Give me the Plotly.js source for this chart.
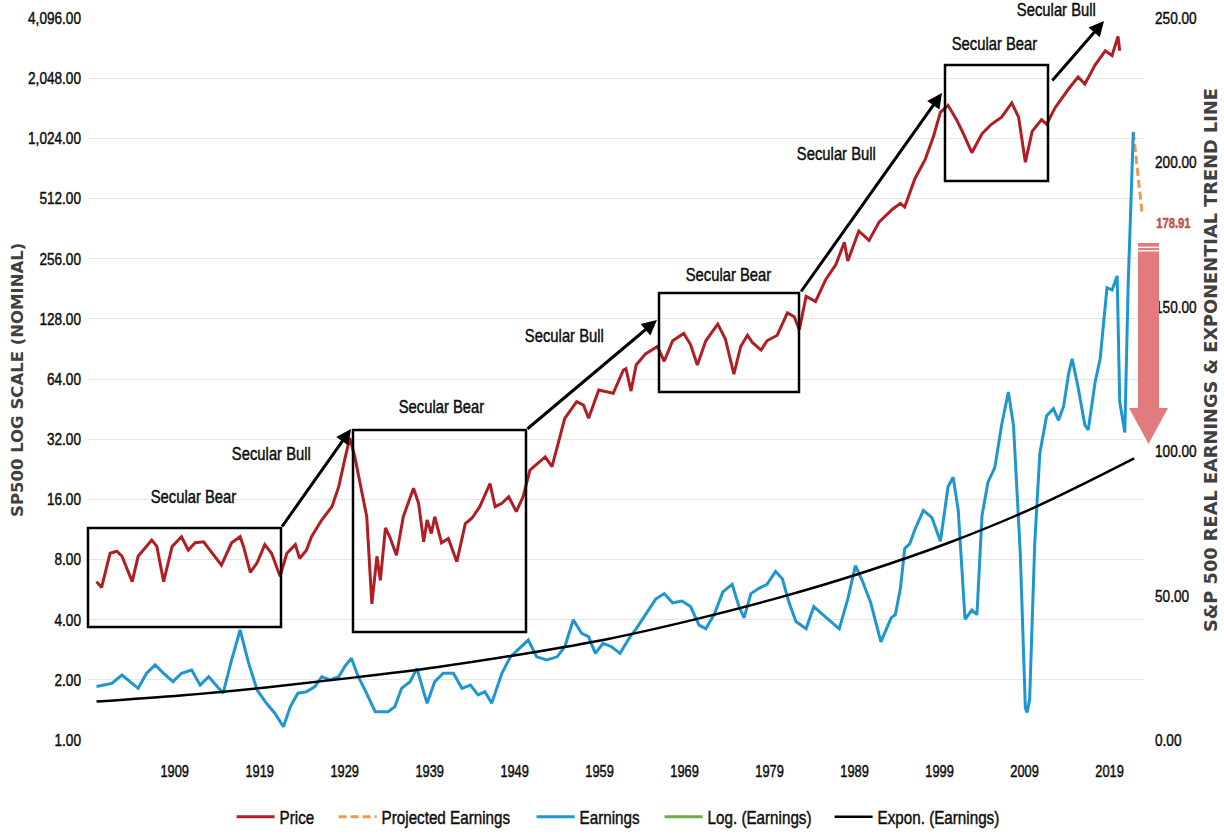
<!DOCTYPE html>
<html><head><meta charset="utf-8">
<script src="https://cdn.plot.ly/plotly-3.0.1.min.js"></script>
<style>
html,body{margin:0;padding:0;background:#fff;}
#chart{width:1224px;height:837px;}
</style>
</head><body><div id="chart"></div>
<script>
// ---------- data ----------
const tickYears = [1909,1919,1929,1939,1949,1959,1969,1979,1989,1999,2009,2019];
const leftTicks = [1,2,4,8,16,32,64,128,256,512,1024,2048,4096];
const leftTickText = ["1.00","2.00","4.00","8.00","16.00","32.00","64.00","128.00","256.00","512.00","1,024.00","2,048.00","4,096.00"];
const rightTicks = [0,50,100,150,200,250];
const rightTickText = ["0.00","50.00","100.00","150.00","200.00","250.00"];

const priceYears = [1899.8,1900.4,1901.4,1902.2,1902.8,1904.0,1904.7,1906.3,1906.9,1907.7,
1908.7,1909.8,1910.6,1911.4,1912.4,1913.4,1914.5,1915.7,1916.7,1917.1,
1917.9,1918.7,1919.6,1920.4,1921.4,1922.2,1923.2,1923.7,1924.5,1925.1,
1926.3,1927.5,1928.3,1929.0,1929.6,1930.2,1931.0,1931.6,1932.2,1932.8,
1933.2,1933.8,1934.3,1935.1,1935.9,1937.1,1937.7,1938.3,1938.7,1939.2,
1939.6,1940.4,1941.2,1942.2,1943.2,1944.0,1944.9,1946.1,1946.7,1947.5,
1948.3,1949.2,1950.0,1950.8,1952.6,1953.4,1954.9,1956.3,1957.1,1957.7,
1958.9,1960.6,1961.8,1962.1,1962.7,1963.3,1964.4,1965.8,1966.6,1967.6,
1968.9,1969.7,1970.5,1971.5,1972.9,1973.8,1974.8,1975.6,1976.4,1977.0,
1978.0,1978.7,1979.9,1981.1,1981.9,1982.5,1983.3,1984.4,1985.6,1986.8,
1987.8,1988.2,1989.5,1990.7,1991.9,1993.5,1994.4,1994.9,1996.1,1997.3,
1998.3,1999.1,2000.0,2001.0,2001.8,2002.8,2004.0,2005.1,2006.3,2007.5,
2008.3,2009.1,2009.9,2011.0,2011.6,2012.6,2014.2,2015.3,2016.1,2017.3,
2018.5,2019.3,2020.0,2020.2];
const priceValues = [6.2,5.8,8.6,8.8,8.3,6.2,8.3,10.0,9.3,6.2,
9.3,10.4,8.9,9.7,9.8,8.6,7.5,9.7,10.4,9.3,
6.9,7.7,9.5,8.6,6.6,8.6,9.5,8.1,8.9,10.4,
12.6,14.7,18.5,25.2,32.4,26.1,17.8,13.1,4.8,8.3,
6.3,11.5,10.4,8.4,13.1,18.2,15.3,9.8,12.6,10.8,
13.1,9.7,10.2,7.8,12.1,12.9,14.7,19.2,14.7,15.3,
16.5,13.9,16.5,22.4,26.1,23.3,40.7,49.3,47.4,40.7,
56.4,54.3,71.0,72.1,55.7,75.2,85.5,93.1,78.5,99.4,
108.2,95.2,75.2,99.4,120.4,101.5,67.6,93.1,106,97.2,
89.3,99.4,106,137,131,113,166,156,201,239,
309,249,352,316,391,454,484,464,643,800,
1052,1381,1499,1270,1080,868,1080,1204,1307,1539,
1307,778,1110,1270,1204,1458,1813,2077,1916,2382,
2807,2658,3308,2807];

const earnYears = [1899.8,1900.8,1901.6,1902.8,1903.5,1904.7,1905.7,1906.7,1907.7,1908.8,
1909.8,1911.0,1912.0,1913.0,1913.7,1914.7,1915.7,1916.7,1917.7,1918.7,
1919.8,1920.8,1921.8,1922.6,1923.5,1924.5,1925.5,1926.3,1927.3,1928.3,
1929.0,1929.8,1930.6,1931.4,1932.6,1934.1,1934.9,1935.7,1936.7,1937.5,
1938.7,1939.6,1940.6,1941.8,1942.8,1943.8,1944.7,1945.5,1946.3,1947.5,
1948.5,1949.4,1950.6,1951.6,1952.8,1954.0,1954.9,1955.9,1956.9,1957.7,
1958.5,1959.4,1960.4,1961.4,1962.6,1963.3,1964.4,1965.6,1966.6,1967.6,
1968.7,1969.7,1970.7,1971.5,1972.5,1973.5,1974.6,1975.4,1976.0,1976.8,
1977.8,1978.7,1979.7,1980.5,1981.3,1982.1,1983.3,1984.2,1985.2,1986.2,
1987.2,1988.2,1989.1,1989.9,1990.9,1992.1,1993.3,1993.8,1994.4,1994.9,
1995.5,1996.1,1997.1,1998.1,1999.1,2000.0,2000.6,2001.2,2002.0,2002.8,
2003.4,2004.0,2004.7,2005.5,2006.3,2007.1,2007.7,2008.5,2009.1,2009.3,
2009.6,2010.2,2010.8,2011.6,2012.4,2013.0,2013.6,2014.2,2014.6,2015.3,
2016.1,2016.5,2017.3,2017.9,2018.7,2019.3,2019.9,2020.2,2020.8,2021.2,
2021.8];
const earnValues = [18.5,19.0,19.6,22.5,20.8,17.9,23.1,26.0,23.1,20.2,
23.1,24.2,19.0,21.9,19.6,16.2,27.7,38.1,26.6,17.3,
12.7,9.2,4.6,11.5,16.2,16.7,18.5,21.9,20.8,21.9,
25.4,28.3,21.9,17.3,9.8,9.8,11.5,17.9,20.2,24.8,
12.7,20.2,23.1,23.1,17.9,19.0,15.6,16.7,12.7,23.1,
28.8,31.2,34.6,28.8,27.7,28.8,32.3,41.6,36.9,35.8,
30.0,33.5,32.3,30.0,35.8,38.5,43.6,48.8,50.7,47.5,
48.1,46.2,39.8,38.5,43.6,51.3,53.9,46.2,42.3,50.7,
52.6,53.9,58.4,55.8,47.5,41.0,38.5,46.2,43.6,41.0,
38.5,48.8,60.4,55.2,47.5,34.0,42.3,43.4,52.5,66.3,
68.0,72.9,79.5,77.0,68.8,87.7,91.0,79.5,41.8,45.0,
43.4,77.8,89.3,94.3,109.0,120.5,109.0,64.7,11.0,9.5,
14.0,68.0,99.2,112.3,114.7,110.7,115.6,127.1,132.0,122.2,
109.0,107.4,123.8,132.0,156.6,155.8,160.7,117.2,106.5,158.2,
210.5];

const projYears = [2021.8,2022.3,2022.85];
const projValues = [210.5,196,182];

const trendYears = [1899.8,1910,1920,1930,1940,1950,1960,1970,1980,1990,2000,2010,2021.9];
const trendValues = [13.3,15.5,18.3,21.6,25.3,29.8,35.0,41.6,49.2,58.0,68.2,80.3,97.5];

const projectedLabel = 178.91;

// ---------- layout helpers (pixel -> paper for annotations) ----------
const L = 88, R = 1143, T = 18, B = 740;
const px = x => (x - L) / (R - L);
const py = y => (B - y) / (B - T);

const NARROW = "Liberation Sans, Arial, sans-serif";
const TXT = "#0d0d0d";

const traces = [
  {x: priceYears, y: priceValues, name: "Price", type: "scatter", mode: "lines",
   line: {color: "#b01e23", width: 3}, yaxis: "y", legendwidth: 49},
  {x: projYears, y: projValues, name: "Projected Earnings", type: "scatter", mode: "lines",
   line: {color: "#ec9a4e", width: 3, dash: "8px,4px"}, yaxis: "y2", legendwidth: 145, cliponaxis: false},
  {x: earnYears, y: earnValues, name: "Earnings", type: "scatter", mode: "lines",
   line: {color: "#1e96cf", width: 3}, yaxis: "y2", legendwidth: 75},
  {x: [null], y: [null], name: "Log. (Earnings)", type: "scatter", mode: "lines",
   line: {color: "#70ad47", width: 3}, yaxis: "y2", legendwidth: 117},
  {x: trendYears, y: trendValues, name: "Expon. (Earnings)", type: "scatter", mode: "lines",
   line: {color: "#000000", width: 2.5, shape: "spline"}, yaxis: "y2"}
];

const boxes = [[88,528,281,627],[353,430,526,632],[659,293,799,392],[945,65,1048,181]];
const shapes = boxes.map(b => ({type: "rect", xref: "paper", yref: "paper",
  x0: px(b[0]), x1: px(b[2]), y0: py(b[3]), y1: py(b[1]),
  line: {color: "#000", width: 2.5}, fillcolor: "rgba(0,0,0,0)"}));

// big pink arrow
const arrowPts = [[1138,243],[1159,243],[1159,408],[1168,408],[1148.5,444],[1129,408],[1138,408]];
shapes.push({type: "path", xref: "paper", yref: "paper",
  path: "M" + arrowPts.map(p => px(p[0]) + "," + py(p[1])).join(" L") + " Z",
  fillcolor: "#e27b7d", line: {width: 0}});
[247.3, 250.8].forEach(yy => shapes.push({type: "line", xref: "paper", yref: "paper",
  x0: px(1138), x1: px(1159), y0: py(yy), y1: py(yy), line: {color: "#fff", width: 1.3}}));

const arrows = [[[281,528],[351,429]],[[526,430],[657,320]],[[800,293],[942,93]],[[1051,82],[1104,21]]];
const annotations = arrows.map(a => ({xref: "paper", yref: "paper",
  x: px(a[1][0]), y: py(a[1][1]), ax: a[0][0] - a[1][0], ay: a[0][1] - a[1][1],
  axref: "pixel", ayref: "pixel", text: "", showarrow: true,
  arrowhead: 2, arrowsize: 1, arrowwidth: 3, arrowcolor: "#000", standoff: 0, startstandoff: 0}));

const labels = [["Secular Bear",193,496],["Secular Bull",271,453],["Secular Bear",441.5,406.5],
  ["Secular Bull",564,335],["Secular Bear",729,274],["Secular Bull",836.5,153],
  ["Secular Bear",994,43.5],["Secular Bull",1056.7,9]];
labels.forEach(l => annotations.push({xref: "paper", yref: "paper", x: px(l[1]), y: py(l[2]),
  text: l[0], showarrow: false, xanchor: "center", yanchor: "middle",
  font: {family: NARROW, size: 18.5, color: TXT}}));

annotations.push({xref: "paper", yref: "paper", x: px(17), y: py(380), text: "SP500 LOG SCALE (NOMINAL)",
  textangle: -90, showarrow: false, xanchor: "center", yanchor: "middle",
  font: {family: "DejaVu Sans, sans-serif", size: 16.5, weight: 700, color: "#404040"}});
annotations.push({xref: "paper", yref: "paper", x: px(1210), y: py(360),
  text: "S&amp;P 500 REAL EARNINGS &amp; EXPONENTIAL TREND LINE",
  textangle: -90, showarrow: false, xanchor: "center", yanchor: "middle",
  font: {family: "DejaVu Sans, sans-serif", size: 17.8, weight: 700, color: "#404040"}});
annotations.push({xref: "paper", yref: "y2", x: px(1173), y: projectedLabel, text: projectedLabel.toFixed(2),
  showarrow: false, xanchor: "center", yanchor: "middle",
  font: {family: NARROW, size: 14, weight: 700, color: "#c0504d"}});

const layout = {
  width: 1224, height: 837,
  margin: {l: L, r: 1224 - R, t: T, b: 837 - B, autoexpand: false},
  paper_bgcolor: "#fff", plot_bgcolor: "#fff",
  showlegend: true,
  legend: {orientation: "h", x: px(231.6), xanchor: "left", y: py(817), yanchor: "middle",
    font: {family: NARROW, size: 19, color: TXT}, itemwidth: 38, bgcolor: "rgba(0,0,0,0)"},
  xaxis: {range: [1898.8, 2022.94], tickvals: tickYears, ticktext: tickYears.map(String),
    showgrid: false, zeroline: false, showline: false, ticks: "", ticklabelstandoff: 20,
    tickfont: {family: NARROW, size: 16, color: TXT}},
  yaxis: {type: "log", range: [0, Math.log10(4096)], tickvals: leftTicks, ticktext: leftTickText,
    showgrid: true, gridcolor: "#e6e6e6", gridwidth: 1, zeroline: false, showline: false, ticks: "",
    ticklabelstandoff: 6, tickfont: {family: NARROW, size: 17, color: TXT}},
  yaxis2: {overlaying: "y", side: "right", range: [0, 250], tickvals: rightTicks, ticktext: rightTickText,
    showgrid: false, zeroline: false, showline: false, ticks: "", ticklabelstandoff: 11,
    tickfont: {family: NARROW, size: 17, color: TXT}},
  shapes: shapes, annotations: annotations
};

// emulate the narrow, heavy typeface of the original by condensing glyphs horizontally
function condense(gd) {
  gd.querySelectorAll("text").forEach(t => {
    const ff = t.style.fontFamily || t.getAttribute("font-family") || "";
    if (ff.indexOf("Liberation Sans") === -1) return;
    const w = t.getComputedTextLength();
    if (w > 0) {
      t.setAttribute("textLength", (w * 0.8).toFixed(2));
      t.setAttribute("lengthAdjust", "spacingAndGlyphs");
      const fill = t.style.fill || TXT;
      t.style.stroke = fill;
      t.style.strokeWidth = "0.45px";
    }
  });
}

Plotly.newPlot("chart", traces, layout, {displayModeBar: false, staticPlot: true}).then(condense);
</script>
</body></html>
